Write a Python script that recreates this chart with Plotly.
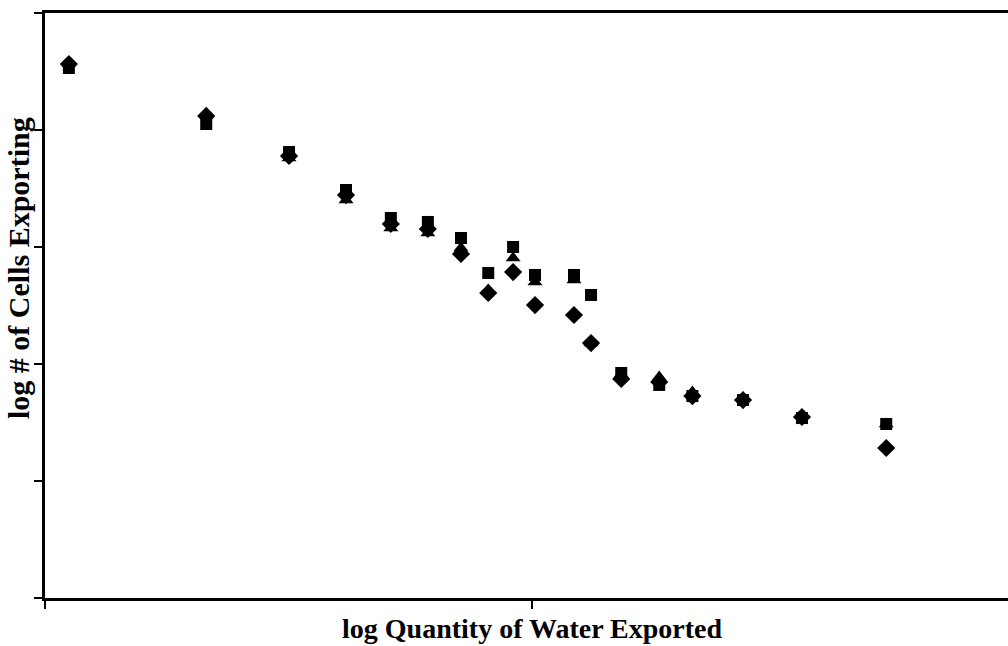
import plotly.graph_objects as go

# log quantity of water exported (x) and log # of cells exporting (y), three series
log_water = [0.049, 0.331, 0.501, 0.618, 0.710, 0.786, 0.854, 0.910, 0.961, 1.006,
             1.086, 1.121, 1.183, 1.261, 1.329, 1.433, 1.554, 1.727]
series_diamond = [4.564, 4.120, 3.778, 3.444, 3.197, 3.154, 2.940, 2.607, 2.786, 2.504,
                  2.419, 2.179, 1.872, 1.846, 1.726, 1.692, 1.547, 1.282]
series_square = [4.530, 4.051, 3.812, 3.487, 3.248, 3.214, 3.077, 2.778, 3.000, 2.761,
                 2.761, 2.590, 1.923, 1.821, 1.726, 1.692, 1.538, 1.487]
series_triangle = [4.573, 4.128, 3.761, 3.402, 3.162, 3.120, 2.991, 2.632, 2.906, 2.701,
                   2.718, 2.179, 1.915, 1.889, 1.761, 1.709, 1.564, 1.487]

fig = go.Figure()
fig.add_trace(go.Scatter(x=log_water, y=series_diamond, mode="markers", name="diamond",
                         marker=dict(symbol="diamond", size=14, color="black")))
fig.add_trace(go.Scatter(x=log_water, y=series_square, mode="markers", name="square",
                         marker=dict(symbol="square", size=12, color="black")))
fig.add_trace(go.Scatter(x=log_water, y=series_triangle, mode="markers", name="triangle",
                         marker=dict(symbol="triangle-up", size=13, color="black")))

fig.update_layout(
    width=1008, height=646,
    margin=dict(l=45, r=0, t=13, b=48),
    plot_bgcolor="white", paper_bgcolor="white",
    showlegend=False,
    font=dict(family="Liberation Serif", color="black"),
    xaxis=dict(range=[0, 1.977], showgrid=False, zeroline=False, showline=True,
               linecolor="black", linewidth=2.5, mirror=True,
               ticks="outside", tickvals=[0, 1, 2], ticklen=8, tickwidth=2,
               tickcolor="black", showticklabels=False),
    yaxis=dict(range=[0, 5], showgrid=False, zeroline=False, showline=True,
               linecolor="black", linewidth=2.5,
               ticks="outside", tickvals=[0, 1, 2, 3, 4, 5], ticklen=8, tickwidth=2,
               tickcolor="black", showticklabels=False),
    annotations=[
        dict(text="<b>log Quantity of Water Exported</b>", xref="paper", yref="paper",
             x=(532 - 45) / 963, y=-30 / 585, xanchor="center", yanchor="middle",
             showarrow=False, font=dict(size=28, family="Liberation Serif", color="black")),
        dict(text="<b>log # of Cells Exporting</b>", xref="paper", yref="paper",
             x=-27 / 963, y=(598 - 268) / 585, xanchor="center", yanchor="middle",
             textangle=-90, showarrow=False,
             font=dict(size=30, family="Liberation Serif", color="black")),
    ],
)

fig.write_html(
    "out.html",
    config={"displayModeBar": False},
    post_script="document.body.style.margin='0';document.body.style.overflow='hidden';",
)
